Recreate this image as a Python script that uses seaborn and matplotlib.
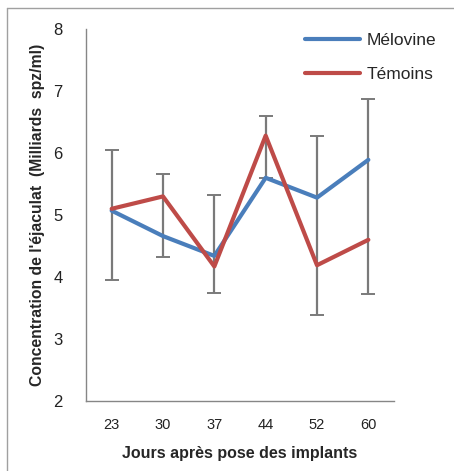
import pandas as pd
import matplotlib.pyplot as plt
import seaborn as sns
from matplotlib.lines import Line2D

# --- Data ---
jours = ['23', '30', '37', '44', '52', '60']
melovine = [5.07, 4.66, 4.34, 5.60, 5.28, 5.89]
temoins = [5.10, 5.30, 4.17, 6.28, 4.19, 4.60]
err_bas = [3.95, 4.32, 3.75, 5.60, 3.38, 3.72]
err_haut = [6.05, 5.66, 5.32, 6.60, 6.28, 6.87]

BLUE = '#4A7EBB'
RED = '#BE4B48'
GREY = '#868686'

df = pd.DataFrame({
    'Jours': jours * 2,
    'Concentration': melovine + temoins,
    'Groupe': ['Mélovine'] * len(jours) + ['Témoins'] * len(jours),
})

sns.set_style('white')
plt.rcParams['font.family'] = ['Liberation Sans', 'DejaVu Sans']

fig = plt.figure(figsize=(4.54, 4.71), dpi=100)
ax = fig.add_axes([86 / 454, 1 - 401 / 471, (394 - 86) / 454, (401 - 29) / 471])

# error bars (drawn under the lines)
centre = [(lo + hi) / 2 for lo, hi in zip(err_bas, err_haut)]
yerr = [[c - lo for c, lo in zip(centre, err_bas)],
        [hi - c for c, hi in zip(centre, err_haut)]]
ax.errorbar(range(len(jours)), centre, yerr=yerr, fmt='none',
            ecolor='#7a7a7a', elinewidth=1.6, capsize=5, capthick=1.4, zorder=1)

sns.lineplot(data=df, x='Jours', y='Concentration', hue='Groupe',
             palette=[BLUE, RED], linewidth=3, sort=False, ax=ax, zorder=3,
             legend=False)

ax.set_ylim(2, 8)
ax.set_xlim(-0.5, len(jours) - 0.5)
ax.set_yticks(range(2, 9))
ax.set_xticks(range(len(jours)))
ax.set_xticklabels(jours)
ax.set_xticks([i - 0.5 for i in range(len(jours) + 1)], minor=True)
ax.tick_params(axis='x', which='major', length=0, pad=12, labelsize=10.5, colors='#222222')
ax.tick_params(axis='x', which='minor', length=5, width=1, color=GREY, direction='out')
ax.tick_params(axis='y', length=5, width=1, color=GREY, direction='out',
               labelsize=12, pad=12, labelcolor='#222222')

for side in ['top', 'right']:
    ax.spines[side].set_visible(False)
for side in ['left', 'bottom']:
    ax.spines[side].set_color(GREY)
    ax.spines[side].set_linewidth(1)

ax.set_xlabel('Jours après pose des implants', fontsize=11.5, fontweight='bold',
              labelpad=10)
ax.set_ylabel("Concentration de l'éjaculat  (Milliards  spz/ml)", fontsize=11.3,
              fontweight='bold', labelpad=6)

handles = [Line2D([], [], color=BLUE, lw=3), Line2D([], [], color=RED, lw=3)]
ax.legend(handles, ['Mélovine', 'Témoins'], loc='upper right',
          bbox_to_anchor=(436 / 454, 1 - 33 / 471), bbox_transform=fig.transFigure,
          frameon=False, fontsize=12.5, handlelength=3.2, handletextpad=0.35,
          labelspacing=1.1, borderaxespad=0, borderpad=0)

# chart border (left and top edges visible)
fig.add_artist(Line2D([7 / 454, 7 / 454], [0, 1 - 8 / 471], color='#a0a0a0', lw=1,
                      transform=fig.transFigure))
fig.add_artist(Line2D([7 / 454, 1], [1 - 8 / 471, 1 - 8 / 471], color='#a0a0a0', lw=1,
                      transform=fig.transFigure))

plt.savefig('out.png', dpi=100)
plt.close(fig)
